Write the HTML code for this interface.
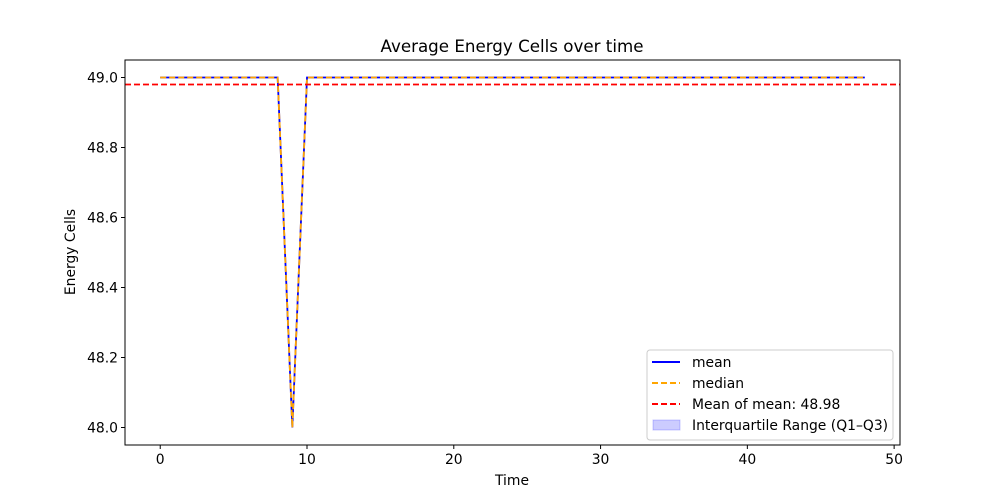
<!DOCTYPE html>
<html><head><meta charset="utf-8"><style>
body{margin:0;background:#fff;font-family:"DejaVu Sans","Liberation Sans",sans-serif}
svg text{font-family:"DejaVu Sans","Liberation Sans",sans-serif;fill:#000}
</style></head><body>
<svg id="chart" width="1000" height="500">
<rect x="0" y="0" width="1000" height="500" fill="#fff"/>
<text x="512" y="52" font-size="16.7" text-anchor="middle">Average Energy Cells over time</text>
<g id="plot"></g>
<rect x="125" y="60" width="775" height="385" fill="none" stroke="#000" stroke-width="1"/>
<g id="axes"></g>
<text x="512" y="485" font-size="13.9" text-anchor="middle">Time</text>
<text transform="translate(75,252) rotate(-90)" font-size="13.9" text-anchor="middle">Energy Cells</text>
<g>
<rect x="647" y="350" width="246" height="90" rx="3" fill="#fff" fill-opacity="0.8" stroke="#ccc"/>
<line x1="652" y1="362" x2="680" y2="362" stroke="#0000ff" stroke-width="2"/>
<text x="692" y="367" font-size="13.9">mean</text>
<line x1="652" y1="383" x2="680" y2="383" stroke="orange" stroke-width="2" stroke-dasharray="6,3"/>
<text x="692" y="388" font-size="13.9">median</text>
<line x1="652" y1="404" x2="680" y2="404" stroke="red" stroke-width="2" stroke-dasharray="6,3"/>
<text x="692" y="409" font-size="13.9">Mean of mean: 48.98</text>
<rect x="653" y="420" width="27" height="10" fill="#0000ff" fill-opacity="0.2" stroke="#0000ff" stroke-opacity="0.2"/>
<text x="692" y="430" font-size="13.9">Interquartile Range (Q1–Q3)</text>
</g>
</svg>
<script>
const times=[];for(let i=0;i<=48;i++)times.push(i);
const meanVals=[49,49,49,49,49,49,49,49,49,48,49,49,49,49,49,49,49,49,49,49,49,49,49,49,49,49,49,49,49,49,49,49,49,49,49,49,49,49,49,49,49,49,49,49,49,49,49,49,49];
const medianVals=meanVals.slice();
const meanOfMean=48.98;
const xTicks=[0,10,20,30,40,50];
const yTicks=[48.0,48.2,48.4,48.6,48.8,49.0];
const X0=125,X1=900,Y0=445,Y1=60,xmin=-2.4,xmax=50.4,ymin=47.95,ymax=49.05;
const sx=v=>X0+(v-xmin)/(xmax-xmin)*(X1-X0);
const sy=v=>Y0-(v-ymin)/(ymax-ymin)*(Y0-Y1);
const NS="http://www.w3.org/2000/svg";
const plot=document.getElementById('plot'),axes=document.getElementById('axes');
function mk(tag,attrs,parent){const e=document.createElementNS(NS,tag);for(const k in attrs)e.setAttribute(k,attrs[k]);parent.appendChild(e);return e;}
const pts=a=>a.map((v,i)=>sx(times[i])+','+sy(v)).join(' ');
const iqr=mk('polygon',{points:pts(meanVals)+' '+meanVals.map((v,i)=>[i,v]).reverse().map(([i,v])=>sx(times[i])+','+sy(v)).join(' '),fill:'#0000ff','fill-opacity':0.2,stroke:'#0000ff','stroke-opacity':0.2},plot);


const ml=mk('polyline',{points:pts(meanVals),fill:'none',stroke:'#0000ff','stroke-width':1.8},plot);


const md=mk('polyline',{points:pts(medianVals),fill:'none',stroke:'orange','stroke-width':1.8,'stroke-dasharray':'6,3'},plot);


const mm=mk('line',{x1:X0,x2:X1,y1:sy(meanOfMean),y2:sy(meanOfMean),stroke:'red','stroke-width':1.8,'stroke-dasharray':'6,3'},plot);


xTicks.forEach(t=>{const x=sx(t);
const l=mk('line',{x1:x,x2:x,y1:Y0,y2:Y0+4,stroke:'#000'},axes);


const tx=mk('text',{x:x,y:Y0+19,'font-size':13.9,'text-anchor':'middle'},axes);tx.textContent=t;

});
yTicks.forEach(t=>{const y=sy(t);
const l=mk('line',{x1:X0-4,x2:X0,y1:y,y2:y,stroke:'#000'},axes);


const tx=mk('text',{x:X0-7,y:y+5,'font-size':13.9,'text-anchor':'end'},axes);tx.textContent=t.toFixed(1);

});
</script>
</body></html>
